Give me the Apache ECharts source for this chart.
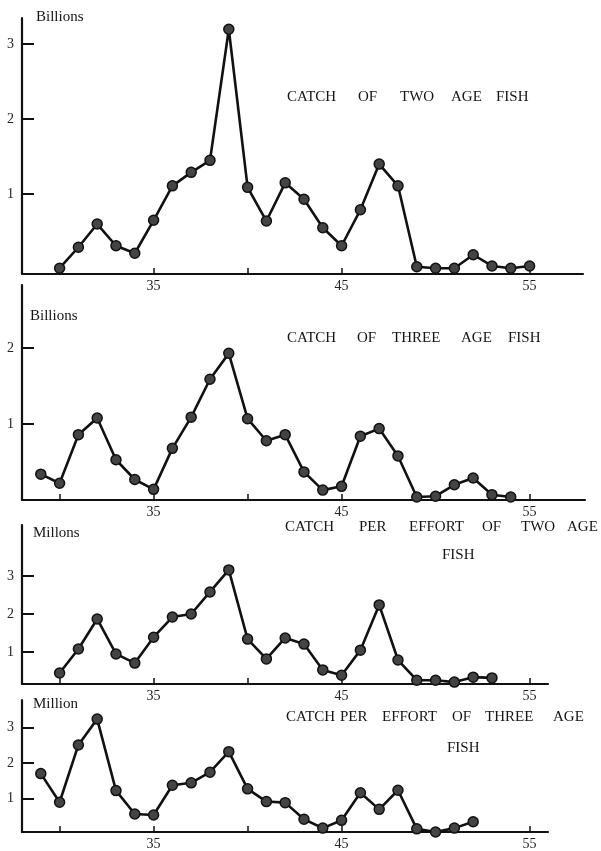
<!DOCTYPE html>
<html>
<head>
<meta charset="utf-8">
<script src="https://cdn.jsdelivr.net/npm/echarts@6/dist/echarts.min.js"></script>
<style>
  html, body { margin: 0; background: #fff; }
  #main { width: 601px; height: 851px; }
</style>
</head>
<body>
<div id="main"></div>
<script>
// catch of two age fish (billions), years 30-55
const yearsCatchTwo = [30,31,32,33,34,35,36,37,38,39,40,41,42,43,44,45,46,47,48,49,50,51,52,53,54,55]
const catchTwo = [0.01,0.29,0.6,0.31,0.21,0.65,1.11,1.29,1.45,3.2,1.09,0.64,1.15,0.93,0.55,0.31,0.79,1.4,1.11,0.03,0.01,0.01,0.19,0.04,0.01,0.04]

// catch of three age fish (billions), years 29-54
const yearsCatchThree = [29,30,31,32,33,34,35,36,37,38,39,40,41,42,43,44,45,46,47,48,49,50,51,52,53,54]
const catchThree = [0.34,0.22,0.86,1.08,0.53,0.27,0.14,0.68,1.09,1.59,1.93,1.07,0.78,0.86,0.37,0.13,0.18,0.84,0.94,0.58,0.04,0.05,0.2,0.29,0.07,0.04]

// catch per effort of two age fish (millions), years 30-53
const yearsCpeTwo = [30,31,32,33,34,35,36,37,38,39,40,41,42,43,44,45,46,47,48,49,50,51,52,53]
const cpeTwo = [0.45,1.08,1.87,0.95,0.71,1.39,1.92,2.0,2.58,3.16,1.34,0.82,1.37,1.21,0.53,0.39,1.05,2.24,0.79,0.26,0.26,0.21,0.34,0.32]

// catch per effort of three age fish (million), years 29-52
const yearsCpeThree = [29,30,31,32,33,34,35,36,37,38,39,40,41,42,43,44,45,46,47,48,49,50,51,52]
const cpeThree = [1.7,0.89,2.51,3.24,1.22,0.56,0.53,1.37,1.44,1.74,2.32,1.27,0.91,0.88,0.41,0.16,0.38,1.16,0.69,1.23,0.14,0.05,0.16,0.34]

const xTickYears = [30, 35, 40, 45, 55]
const xLabelYears = [35, 45, 55]
const unitNames = ['Billions', 'Billions', 'Millons', 'Million']

const SERIF = '"Liberation Serif", "DejaVu Serif", serif'

// panel frames (pixels) and axis ranges
const panels = [
  { grid: { left: 22, top: 18, width: 561, height: 256 }, xMax: 57.84, yMin: -0.067, yMax: 3.35, yTicks: [1, 2, 3], unitPos: [36, 17] },
  { grid: { left: 22, top: 285, width: 563, height: 215 }, xMax: 57.95, yMin: 0, yMax: 2.83, yTicks: [1, 2], unitPos: [30, 316] },
  { grid: { left: 22, top: 525, width: 526, height: 159 }, xMax: 55.98, yMin: 0.16, yMax: 4.34, yTicks: [1, 2, 3], unitPos: [33, 533] },
  { grid: { left: 22, top: 700, width: 526, height: 138 }, xMax: 55.98, yMin: 0.05, yMax: 3.78, yTicks: [1, 2, 3], unitPos: [33, 704] }
]

// title words, placed one by one to keep the wide spacing of the original
const titleWords = [
  [['CATCH', 287, 97], ['OF', 358, 97], ['TWO', 400, 97], ['AGE', 451, 97], ['FISH', 496, 97]],
  [['CATCH', 287, 338], ['OF', 357, 338], ['THREE', 392, 338], ['AGE', 461, 338], ['FISH', 508, 338]],
  [['CATCH', 285, 527], ['PER', 359, 527], ['EFFORT', 409, 527], ['OF', 482, 527], ['TWO', 521, 527], ['AGE', 567, 527], ['FISH', 442, 555]],
  [['CATCH', 286, 717], ['PER', 340, 717], ['EFFORT', 382, 717], ['OF', 452, 717], ['THREE', 485, 717], ['AGE', 553, 717], ['FISH', 447, 748]]
]

const seriesData = [
  yearsCatchTwo.map((y, i) => [y, catchTwo[i]]),
  yearsCatchThree.map((y, i) => [y, catchThree[i]]),
  yearsCpeTwo.map((y, i) => [y, cpeTwo[i]]),
  yearsCpeThree.map((y, i) => [y, cpeThree[i]])
]

const myChart = echarts.init(document.getElementById('main'), null, { renderer: 'canvas' })

const graphics = []
titleWords.forEach(words => {
  words.forEach(w => {
    graphics.push({
      type: 'text', x: w[1], y: w[2],
      style: { text: w[0], font: '15px ' + SERIF, fill: '#151515', textVerticalAlign: 'middle', verticalAlign: 'middle' }
    })
  })
})
panels.forEach((p, i) => {
  graphics.push({
    type: 'text', x: p.unitPos[0], y: p.unitPos[1],
    style: { text: unitNames[i], font: '15px ' + SERIF, fill: '#151515', textVerticalAlign: 'middle', verticalAlign: 'middle' }
  })
})

const option = {
  backgroundColor: '#fff',
  animation: false,
  grid: panels.map(p => p.grid),
  xAxis: panels.map((p, i) => ({
    type: 'value',
    gridIndex: i,
    min: 28,
    max: p.xMax,
    splitLine: { show: false },
    axisLine: { onZero: false, lineStyle: { color: '#111', width: 2.2 } },
    axisTick: { customValues: xTickYears, inside: true, length: 6, lineStyle: { color: '#111', width: 1.5 } },
    axisLabel: { customValues: xLabelYears, margin: 5, color: '#222', fontFamily: SERIF, fontSize: 14 }
  })),
  yAxis: panels.map((p, i) => ({
    type: 'value',
    gridIndex: i,
    min: p.yMin,
    max: p.yMax,
    splitLine: { show: false },
    axisLine: { show: true, onZero: false, lineStyle: { color: '#111', width: 2.2 } },
    axisTick: { show: true, customValues: p.yTicks, inside: true, length: 12, lineStyle: { color: '#111', width: 2 } },
    axisLabel: { customValues: p.yTicks, margin: 8, color: '#222', fontFamily: SERIF, fontSize: 14 }
  })),
  series: seriesData.map((d, i) => ({
    type: 'line',
    xAxisIndex: i,
    yAxisIndex: i,
    data: d,
    symbol: 'circle',
    symbolSize: 10,
    lineStyle: { color: '#111', width: 2.6 },
    itemStyle: { color: '#444', borderColor: '#111', borderWidth: 1.5 }
  })),
  graphic: graphics
}

option && myChart.setOption(option)
</script>
</body>
</html>
